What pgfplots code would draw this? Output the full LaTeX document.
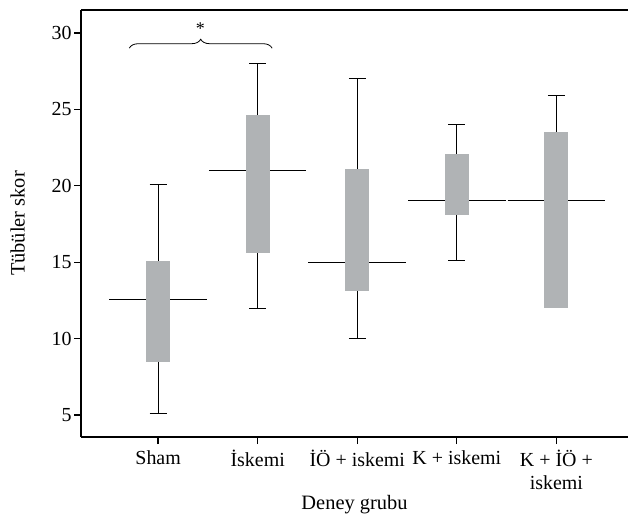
\documentclass[border=0pt]{standalone}
\usepackage{fontspec}
\setmainfont{Liberation Serif}
\usepackage{pgfplots}
\pgfplotsset{compat=1.18}
\usetikzlibrary{decorations.pathreplacing}
\definecolor{boxgray}{RGB}{176,179,181}
\begin{document}
\begin{tikzpicture}
\begin{axis}[
  at={(81bp,78bp)}, anchor=south west,
  scale only axis, width=547bp, height=427bp,
  xmin=-0.775, xmax=4.72, ymin=3.56, ymax=31.5,
  axis x line*=bottom, axis y line*=left,
  axis line style={line width=1.8bp, -},
  clip=false,
  unbounded coords=jump,
  xtick={0,1,2,3,4},
  xticklabels={Sham, İskemi, İÖ + iskemi, K + iskemi, {K + İÖ +\\iskemi}},
  xticklabel style={align=center, text depth=0pt},
  ytick={5,10,15,20,25,30},
  tick align=outside, major tick length=7bp,
  tick style={line width=1.3bp, black},
  /pgf/number format/assume math mode=true,
  ticklabel style={font=\fontsize{20}{23}\selectfont},
  xticklabel style={yshift=-3bp},
  label style={font=\fontsize{20.5}{23}\selectfont},
  xlabel={Deney grubu}, ylabel={Tübüler skor},
  xlabel style={yshift=1bp},
  ylabel style={yshift=20bp},
  yticklabel style={xshift=1bp},
]
% median lines (behind boxes)
\addplot[black, line width=0.9bp] coordinates {
  (-0.49,12.55) (0.49,12.55)
  (nan,nan)
  (0.51,21.0) (1.49,21.0)
  (nan,nan)
  (1.51,15.0) (2.49,15.0)
  (nan,nan)
  (2.51,19.05) (3.49,19.05)
  (nan,nan)
  (3.51,19.05) (4.49,19.05)
};
% whiskers
\addplot[black, line width=0.9bp] coordinates {
  (0,15.1) (0,20.1) (nan,nan) (-0.085,20.1) (0.085,20.1) (nan,nan)
  (0,8.5) (0,5.1) (nan,nan) (-0.085,5.1) (0.085,5.1) (nan,nan)
  (1,24.6) (1,28.0) (nan,nan) (0.915,28.0) (1.085,28.0) (nan,nan)
  (1,15.6) (1,12.0) (nan,nan) (0.915,12.0) (1.085,12.0) (nan,nan)
  (2,21.1) (2,27.0) (nan,nan) (1.915,27.0) (2.085,27.0) (nan,nan)
  (2,13.1) (2,10.0) (nan,nan) (1.915,10.0) (2.085,10.0) (nan,nan)
  (3,22.1) (3,24.0) (nan,nan) (2.915,24.0) (3.085,24.0) (nan,nan)
  (3,18.1) (3,15.1) (nan,nan) (2.915,15.1) (3.085,15.1) (nan,nan)
  (4,23.5) (4,25.9) (nan,nan) (3.915,25.9) (4.085,25.9)
};
% boxes
\addplot[draw=none, fill=boxgray] coordinates {(-0.122,8.5) (0.122,8.5) (0.122,15.1) (-0.122,15.1)} --cycle;
\addplot[draw=none, fill=boxgray] coordinates {(0.878,15.6) (1.122,15.6) (1.122,24.6) (0.878,24.6)} --cycle;
\addplot[draw=none, fill=boxgray] coordinates {(1.878,13.1) (2.122,13.1) (2.122,21.1) (1.878,21.1)} --cycle;
\addplot[draw=none, fill=boxgray] coordinates {(2.878,18.1) (3.122,18.1) (3.122,22.1) (2.878,22.1)} --cycle;
\addplot[draw=none, fill=boxgray] coordinates {(3.878,12.0) (4.122,12.0) (4.122,23.5) (3.878,23.5)} --cycle;
% top frame line
\draw[line width=1.8bp] (rel axis cs:0,1) -- (rel axis cs:1,1);
% significance brace
\draw[line width=0.8bp, decorate, decoration={brace, amplitude=9bp}] (axis cs:-0.29,29.0) -- (axis cs:1.145,29.0);
\node[font=\fontsize{18}{20}\selectfont] at (axis cs:0.425,30.25) {*};
\end{axis}
\pgfresetboundingbox
\path[use as bounding box] (0,0) rectangle (628bp,515bp);
\end{tikzpicture}
\end{document}
